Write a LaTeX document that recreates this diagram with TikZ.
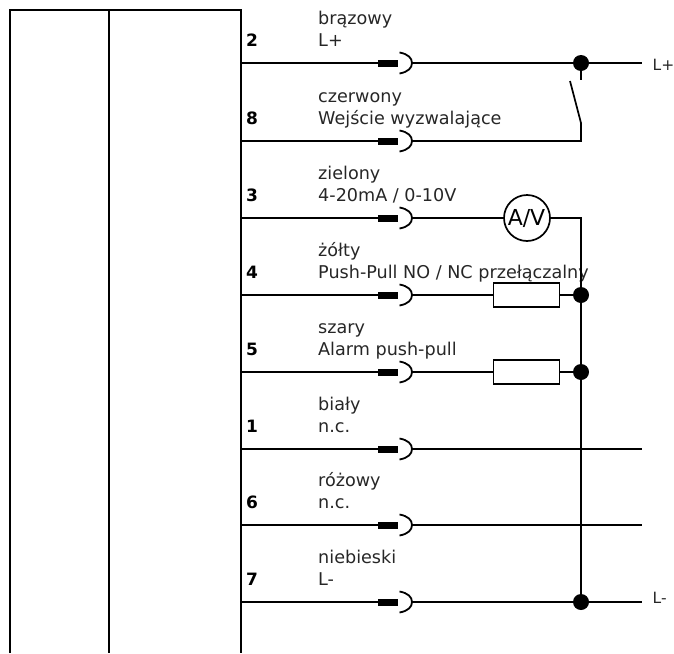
\documentclass[tikz,border=0pt]{standalone}
\usepackage{fontspec}
\setmainfont{DejaVu Sans}
\begin{document}
\begin{tikzpicture}[x=1pt,y=-1pt,
  wire/.style={line width=1.7pt,line cap=butt},
  box/.style={line width=2pt},
  lbl/.style={inner sep=0pt,anchor=base west,font=\fontsize{17.6pt}{20pt}\selectfont,text=black!85},
  endlbl/.style={inner sep=0pt,anchor=base west,font=\fontsize{15.5pt}{18pt}\selectfont,text=black!85},
  num/.style={inner sep=0pt,anchor=base west,font=\fontsize{17pt}{20pt}\selectfont\bfseries},
  dotn/.style={circle,fill=black,inner sep=0pt,minimum size=16pt},
  res/.style={draw,line width=1.7pt,minimum width=66pt,minimum height=24pt,inner sep=0pt},
  meter/.style={draw,circle,line width=1.7pt,fill=white,minimum size=46pt,inner sep=0pt,font=\fontsize{22pt}{22pt}\selectfont},
  pinbar/.style={fill=black,minimum width=20pt,minimum height=7pt,inner sep=0pt}
]
\useasboundingbox (0,0) rectangle (674,653);
\clip (0,0) rectangle (674,653);
% housing
\coordinate (tl) at (10,9.5);
\coordinate (tr) at (240.5,9.5);
\coordinate (tm) at (108.5,9.5);
\coordinate (bl) at (10,653);
\coordinate (bm) at (108.5,653);
\coordinate (br) at (240.5,653);
\draw[box] (bl) -- (tl) -- (tr) -- (br);
\draw[box] (tm) -- (bm);
% pins
\foreach \y/\n/\col/\txt in {
 63/2/brązowy/{L+},
 141/8/czerwony/{Wejście wyzwalające},
 218/3/zielony/{4-20mA / 0-10V},
 295/4/żółty/{Push-Pull NO / NC przełączalny},
 372/5/szary/{Alarm push-pull},
 449/1/biały/{n.c.},
 525/6/różowy/{n.c.},
 602/7/niebieski/{L-}}{
  \coordinate (s\n) at (240.5,\y);
  \node[pinbar] (bar\n) at (388,\y) {};
  \draw[wire] (s\n) -- (bar\n);
  \coordinate (e\n) at (412,\y);
  \draw[line width=1.8pt] (399.5,\y-10.5) .. controls (408,\y-9) and (412,\y-5) .. (412,\y) .. controls (412,\y+5) and (408,\y+9) .. (399.5,\y+10.5);
  \node[num] (n\n) at (246,\y-17) {\n};
  \node[lbl] (c\n) at (318,\y-39) {\col};
  \node[lbl] (t\n) at (318,\y-16.5) {\txt};
}
% junctions and right-hand parts
\node[dotn] (j1) at (581,63) {};
\node[dotn] (j4) at (581,295) {};
\node[dotn] (j5) at (581,372) {};
\node[dotn] (j7) at (581,602) {};
\coordinate (q2) at (642,63);
\coordinate (q1) at (642,449);
\coordinate (q6) at (642,525);
\coordinate (q7) at (642,602);
\coordinate (stub) at (581,80);
\coordinate (sw1) at (570,81);
\coordinate (sw2) at (581,123);
\coordinate (cr8) at (581,141);
\coordinate (cr3) at (581,218);
\node[endlbl] (lp) at (652.5,70) {L+};
\node[endlbl] (lm) at (652.5,603) {L-};
\draw[wire] (e2) -- (q2);
\draw[wire] (j1) -- (stub);
\draw[wire] (sw1) -- (sw2) -- (cr8) -- (e8);
\node[res] (r4) at (526.5,295) {};
\node[res] (r5) at (526.5,372) {};
\node[meter] (mv) at (527,218) {\kern-1pt A/V};
\draw[wire] (e3) -- (mv);
\draw[wire] (mv) -- (cr3) -- (j4);
\draw[wire] (e4) -- (r4);
\draw[wire] (r4) -- (j4);
\draw[wire] (e5) -- (r5);
\draw[wire] (r5) -- (j5);
\draw[wire] (j4) -- (j5);
\draw[wire] (j5) -- (j7);
\draw[wire] (e1) -- (q1);
\draw[wire] (e6) -- (q6);
\draw[wire] (e7) -- (q7);
\end{tikzpicture}
\end{document}
